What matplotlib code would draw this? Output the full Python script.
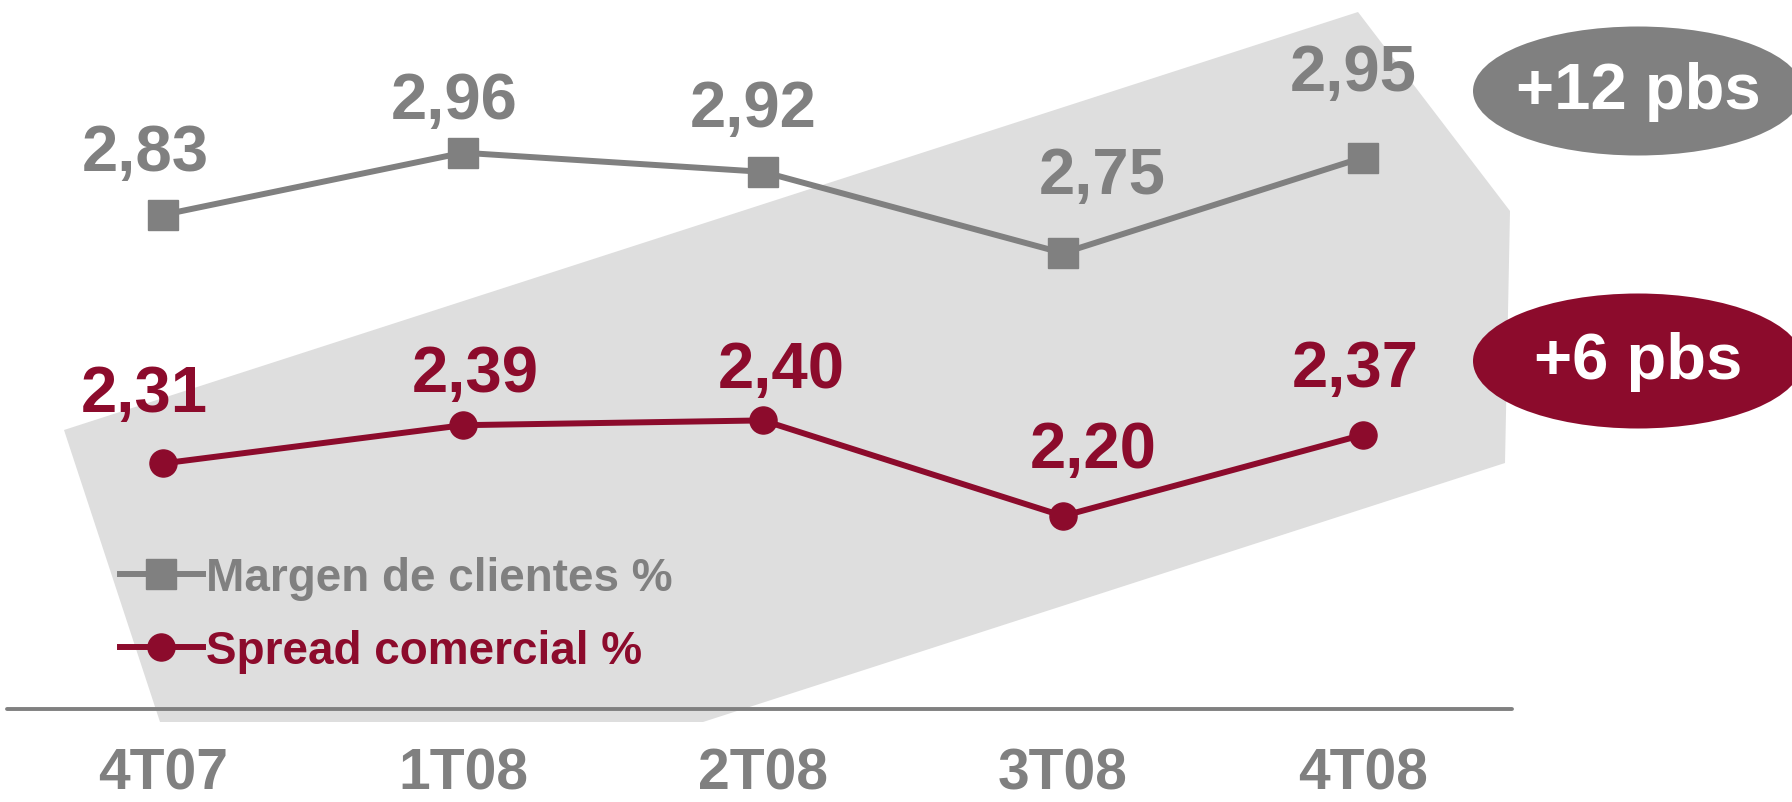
import matplotlib
matplotlib.use("Agg")
import matplotlib.pyplot as plt
from matplotlib.patches import Polygon, Ellipse

plt.rcParams['font.family'] = ['Liberation Sans', 'DejaVu Sans']
plt.rcParams['font.weight'] = 'bold'

# ---- data ----
quarters = ["4T07", "1T08", "2T08", "3T08", "4T08"]
margen_clientes = [2.83, 2.96, 2.92, 2.75, 2.95]
spread_comercial = [2.31, 2.39, 2.40, 2.20, 2.37]
badge_margen = "+12 pbs"
badge_spread = "+6 pbs"

GRAY = "#808080"
RED = "#8c0b2c"
SHADE = "#dedede"

W, H = 1792, 803

# label offsets from each marker, in pixels (dx, dy up)
margen_offsets = [(-18, 45), (-9, 35), (-10, 46), (39, 60), (-10, 68)]
spread_offsets = [(-19, 52), (12, 34), (18, 33), (30, 49), (-8, 49)]


def frac(x, y):
    # pixel position (top-left origin) -> axes fraction
    return (x / W, 1 - y / H)


fig = plt.figure(figsize=(W / 100, H / 100), dpi=100)
ax = fig.add_axes([0, 0, 1, 1])
ax.set_xlim(-0.5433, 5.43)
ax.set_ylim(1.6017, 3.2816)
ax.axis("off")

# background arrow shape
arrow_px = [(64, 431), (1358, 13), (1510, 212), (1505, 464), (703, 723), (160, 723)]
ax.add_patch(Polygon([frac(x, y) for x, y in arrow_px], closed=True,
                     facecolor=SHADE, edgecolor="none", transform=ax.transAxes, zorder=0))

# baseline
ax.plot([7 / W, 1512 / W], [1 - 710 / H] * 2, color=GRAY, lw=2.8,
        transform=ax.transAxes, solid_capstyle="round", zorder=1)

x = list(range(len(quarters)))
ax.plot(x, margen_clientes, color=GRAY, lw=4.3, marker="s", markersize=21,
        label="Margen de clientes %", zorder=3)
ax.plot(x, spread_comercial, color=RED, lw=4.3, marker="o", markersize=19.5,
        label="Spread comercial %", zorder=3)

for xi, v, (dx, dy) in zip(x, margen_clientes, margen_offsets):
    ax.annotate(f"{v:.2f}".replace(".", ","), (xi, v), xytext=(dx, dy),
                textcoords="offset pixels", ha="center", va="baseline",
                fontsize=47, color=GRAY, fontweight="bold", zorder=4)
for xi, v, (dx, dy) in zip(x, spread_comercial, spread_offsets):
    ax.annotate(f"{v:.2f}".replace(".", ","), (xi, v), xytext=(dx, dy),
                textcoords="offset pixels", ha="center", va="baseline",
                fontsize=47, color=RED, fontweight="bold", zorder=4)

# category labels under the baseline
for xi, q in zip(x, quarters):
    ax.text(xi, 1 - 790 / H, q, transform=ax.get_xaxis_transform(),
            ha="center", va="baseline", fontsize=41, color=GRAY, fontweight="bold")

# badges on the right
for (cx, cy, h), color, txt in [((1638, 92, 129), GRAY, badge_margen),
                                ((1638, 362, 135), RED, badge_spread)]:
    ax.add_patch(Ellipse(frac(cx, cy), 330 / W, h / H, facecolor=color,
                         edgecolor="none", transform=ax.transAxes, zorder=2))
    ax.text(*frac(cx, cy), txt, transform=ax.transAxes, ha="center", va="center",
            fontsize=47, color="white", fontweight="bold", zorder=3)

leg = ax.legend(loc="upper left", bbox_to_anchor=frac(120, 557), frameon=False,
                prop={"size": 33, "weight": "bold"}, handlelength=1.8,
                handletextpad=0.08, labelspacing=0.64, borderpad=0,
                borderaxespad=0, markerscale=1.0)
for t, c in zip(leg.get_texts(), [GRAY, RED]):
    t.set_color(c)

fig.savefig("out.png", dpi=100)
